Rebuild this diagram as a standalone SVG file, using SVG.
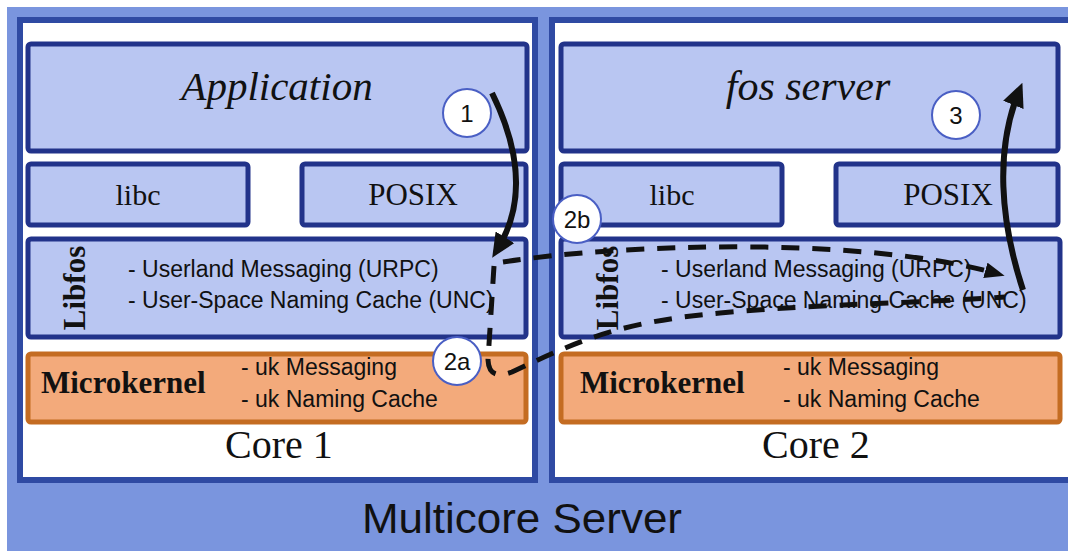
<svg xmlns="http://www.w3.org/2000/svg" width="1068" height="551" viewBox="0 0 1068 551">
<style>
.core{fill:#ffffff;stroke:#2f4aa3;stroke-width:6}
.box{fill:#b9c6f2;stroke:#22338a;stroke-width:5}
.mk{fill:#f3aa7b;stroke:#c46c22;stroke-width:5}
.serif{font-family:"Liberation Serif","Times New Roman",serif;fill:#111}
.sans{font-family:"Liberation Sans",Arial,sans-serif;fill:#111}
.it{font-style:italic}
.b{font-weight:bold}
.item{font-size:23px}
.circ{fill:#ffffff;stroke:#4a5fc4;stroke-width:2}
.num{font-family:"Liberation Sans",Arial,sans-serif;font-size:24px;fill:#111;text-anchor:middle}
.solid{fill:none;stroke:#111;stroke-width:6}
.dash{fill:none;stroke:#111;stroke-width:5;stroke-dasharray:18 13}
</style>
<defs>
<marker id="headBig" markerUnits="userSpaceOnUse" viewBox="0 0 24 22" refX="15" refY="11" markerWidth="24" markerHeight="22" orient="auto">
<path d="M0,0 L24,11 L0,22 z" fill="#111"/>
</marker>
<marker id="headSmall" markerUnits="userSpaceOnUse" viewBox="0 0 20 16" refX="10" refY="8" markerWidth="20" markerHeight="16" orient="auto">
<path d="M0,0 L20,8 L0,16 z" fill="#111"/>
</marker>
</defs>

<rect id="background" x="7" y="7" width="1068" height="551" fill="#7a95de"/>

<g id="core1">
<rect class="core" x="20" y="20" width="515" height="460"/>
<text class="serif" x="279" y="458" font-size="40" text-anchor="middle">Core 1</text>
</g>
<g id="core2">
<rect class="core" x="552" y="20" width="530" height="460"/>
<text class="serif" x="816" y="458" font-size="40" text-anchor="middle">Core 2</text>
</g>

<g id="app1">
<rect class="box" x="28" y="44" width="499" height="107" rx="3"/>
<text class="serif it" x="277" y="100" font-size="41" text-anchor="middle">Application</text>
</g>
<g id="libc1">
<rect class="box" x="28" y="164" width="220" height="61" rx="3"/>
<text class="serif" x="138" y="205" font-size="30" text-anchor="middle">libc</text>
</g>
<g id="posix1">
<rect class="box" x="302" y="164" width="224" height="61" rx="3"/>
<text class="serif" x="413" y="205" font-size="31" text-anchor="middle">POSIX</text>
</g>
<g id="libfos1">
<rect class="box" x="28" y="239" width="498" height="98" rx="3"/>
<text class="serif b" font-size="31" text-anchor="middle" transform="translate(85,288) rotate(-90)">Libfos</text>
<text class="sans item" x="128" y="277">- Userland Messaging (URPC)</text>
<text class="sans item" x="128" y="308">- User-Space Naming Cache (UNC)</text>
</g>
<g id="microkernel1">
<rect class="mk" x="28" y="354" width="498" height="68" rx="3"/>
<text class="serif b" x="41" y="393" font-size="31">Microkernel</text>
<text class="sans item" x="241" y="375">- uk Messaging</text>
<text class="sans item" x="241" y="407">- uk Naming Cache</text>
</g>

<g id="app2">
<rect class="box" x="561" y="44" width="497" height="107" rx="3"/>
<text class="serif it" x="808" y="100" font-size="42" text-anchor="middle">fos server</text>
</g>
<g id="libc2">
<rect class="box" x="561" y="164" width="221" height="61" rx="3"/>
<text class="serif" x="672" y="205" font-size="30" text-anchor="middle">libc</text>
</g>
<g id="posix2">
<rect class="box" x="836" y="164" width="222" height="61" rx="3"/>
<text class="serif" x="948" y="205" font-size="31" text-anchor="middle">POSIX</text>
</g>
<g id="libfos2">
<rect class="box" x="561" y="239" width="499" height="98" rx="3"/>
<text class="serif b" font-size="31" text-anchor="middle" transform="translate(618,288) rotate(-90)">Libfos</text>
<text class="sans item" x="661" y="277">- Userland Messaging (URPC)</text>
<text class="sans item" x="661" y="308">- User-Space Naming Cache (UNC)</text>
</g>
<g id="microkernel2">
<rect class="mk" x="561" y="354" width="499" height="68" rx="3"/>
<text class="serif b" x="580" y="393" font-size="31">Microkernel</text>
<text class="sans item" x="783" y="375">- uk Messaging</text>
<text class="sans item" x="783" y="407">- uk Naming Cache</text>
</g>

<g id="server-label">
<text class="sans" x="522" y="533" font-size="42" text-anchor="middle" textLength="320" lengthAdjust="spacingAndGlyphs">Multicore Server</text>
</g>

<g id="connectors">
<path class="solid" d="M492,93 C525,160 522,210 497,250" marker-end="url(#headBig)"/>
<path class="dash" d="M503,262 C620,244 860,236 995,273" marker-end="url(#headSmall)"/>
<path class="dash" d="M494,266 L488,360 Q489,381 512,372 C580,340 620,322 720,313 S920,303 1005,297"/>
<path class="solid" d="M1023,290 C1000,220 995,150 1019,91" marker-end="url(#headBig)"/>
</g>

<g id="step1">
<circle class="circ" cx="467" cy="113" r="24"/>
<text class="num" x="467" y="122">1</text>
</g>
<g id="step2b">
<circle class="circ" cx="577" cy="219" r="24"/>
<text class="num" x="577" y="228">2b</text>
</g>
<g id="step2a">
<circle class="circ" cx="457" cy="361" r="24"/>
<text class="num" x="457" y="370">2a</text>
</g>
<g id="step3">
<circle class="circ" cx="956" cy="115" r="24"/>
<text class="num" x="956" y="124">3</text>
</g>
</svg>
